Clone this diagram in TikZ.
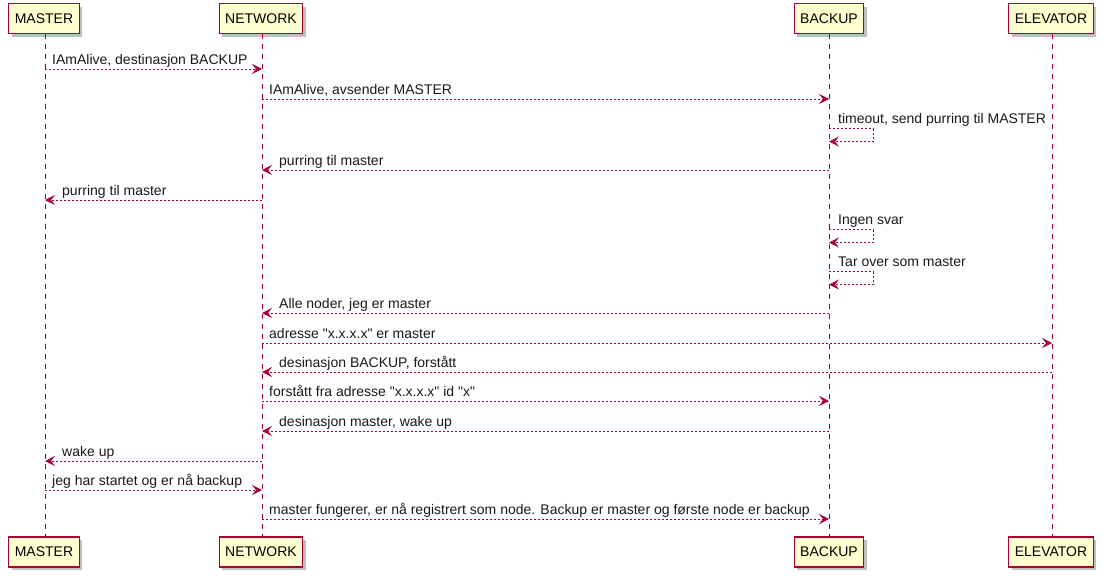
\documentclass[tikz,border=0pt]{standalone}
\usepackage{fontspec}
\setmainfont{Liberation Sans}
\usetikzlibrary{arrows.meta,shadows}
\definecolor{plred}{HTML}{A80036}
\definecolor{plyel}{HTML}{FEFECE}
\newcommand\qq{\textquotedbl}
\begin{document}
\begin{tikzpicture}[x=1pt,y=-1pt,
  part/.style={draw=plred, fill=plyel, line width=1.2pt, font=\fontsize{14}{16}\selectfont,
    minimum height=30pt, inner xsep=6pt, inner ysep=0pt,
    drop shadow={shadow xshift=3pt, shadow yshift=-3pt, fill=black, opacity=.25}},
  lifeline/.style={draw=plred, line width=0.9pt, dash pattern=on 5pt off 5pt},
  msg/.style={draw=plred, line width=0.9pt, dash pattern=on 2pt off 2pt,
    -{Stealth[length=10pt, width=10pt, inset=4pt, fill=plred]}},
  lbl/.style={anchor=base west, inner sep=0pt, font=\fontsize{14}{16}\selectfont, text=black!90}]
\useasboundingbox (0,0) rectangle (1103,576);
% participants
\node[part] (mT) at (44,18.5) {MASTER};
\node[part] (nT) at (261,18.5) {NETWORK};
\node[part] (bT) at (829,18.5) {BACKUP};
\node[part] (eT) at (1051,18.5) {ELEVATOR};
\node[part] (mB) at (44,552) {MASTER};
\node[part] (nB) at (261,552) {NETWORK};
\node[part] (bB) at (829,552) {BACKUP};
\node[part] (eB) at (1051,552) {ELEVATOR};
% lifelines
\draw[lifeline] ([xshift=1pt]mT.south) -- ([xshift=1pt]mB.north);
\draw[lifeline] ([xshift=1pt]nT.south) -- ([xshift=1pt]nB.north);
\draw[lifeline] (bT.south) -- (bB.north);
\draw[lifeline] ([xshift=1pt]eT.south) -- ([xshift=1pt]eB.north);
\coordinate (mL) at (45,0);
\coordinate (nL) at (262,0);
\coordinate (bL) at (829,0);
\coordinate (eL) at (1052,0);
% messages
\draw[msg] (mL |- 0,69) -- (nL |- 0,69);
\node[lbl] (l1) at (52,64) {IAmAlive, destinasjon BACKUP};
\draw[msg] (nL |- 0,99) -- (bL |- 0,99);
\node[lbl] (l2) at (269,94) {IAmAlive, avsender MASTER};
\draw[msg] (bL |- 0,128.5) -- ++(44,0) -- ++(0,13) -- (bL |- 0,141.5);
\node[lbl] (l3) at (838,123.5) {timeout, send purring til MASTER};
\draw[msg] (bL |- 0,170) -- (nL |- 0,170);
\node[lbl] (l4) at (279,165) {purring til master};
\draw[msg] (nL |- 0,200) -- (mL |- 0,200);
\node[lbl] (l5) at (62,195) {purring til master};
\draw[msg] (bL |- 0,229.5) -- ++(44,0) -- ++(0,13) -- (bL |- 0,242.5);
\node[lbl] (l6) at (838,224.5) {Ingen svar};
\draw[msg] (bL |- 0,271.5) -- ++(44,0) -- ++(0,13) -- (bL |- 0,284.5);
\node[lbl] (l7) at (838,266.5) {Tar over som master};
\draw[msg] (bL |- 0,313) -- (nL |- 0,313);
\node[lbl] (l8) at (279,308) {Alle noder, jeg er master};
\draw[msg] (nL |- 0,343) -- (eL |- 0,343);
\node[lbl] (l9) at (269,338) {adresse \qq x.x.x.x\qq{} er master};
\draw[msg] (eL |- 0,372) -- (nL |- 0,372);
\node[lbl] (l10) at (279,367) {desinasjon BACKUP, forstått};
\draw[msg] (nL |- 0,401) -- (bL |- 0,401);
\node[lbl] (l11) at (269,396) {forstått fra adresse \qq x.x.x.x\qq{} id \qq x\qq};
\draw[msg] (bL |- 0,431) -- (nL |- 0,431);
\node[lbl] (l12) at (279,426) {desinasjon master, wake up};
\draw[msg] (nL |- 0,461) -- (mL |- 0,461);
\node[lbl] (l13) at (62,456) {wake up};
\draw[msg] (mL |- 0,490) -- (nL |- 0,490);
\node[lbl] (l14) at (52,485) {jeg har startet og er nå backup};
\draw[msg] (nL |- 0,519) -- (bL |- 0,519);
\node[lbl] (l15) at (269,514) {master fungerer, er nå registrert som node. Backup er master og første node er backup};
\end{tikzpicture}
\end{document}
